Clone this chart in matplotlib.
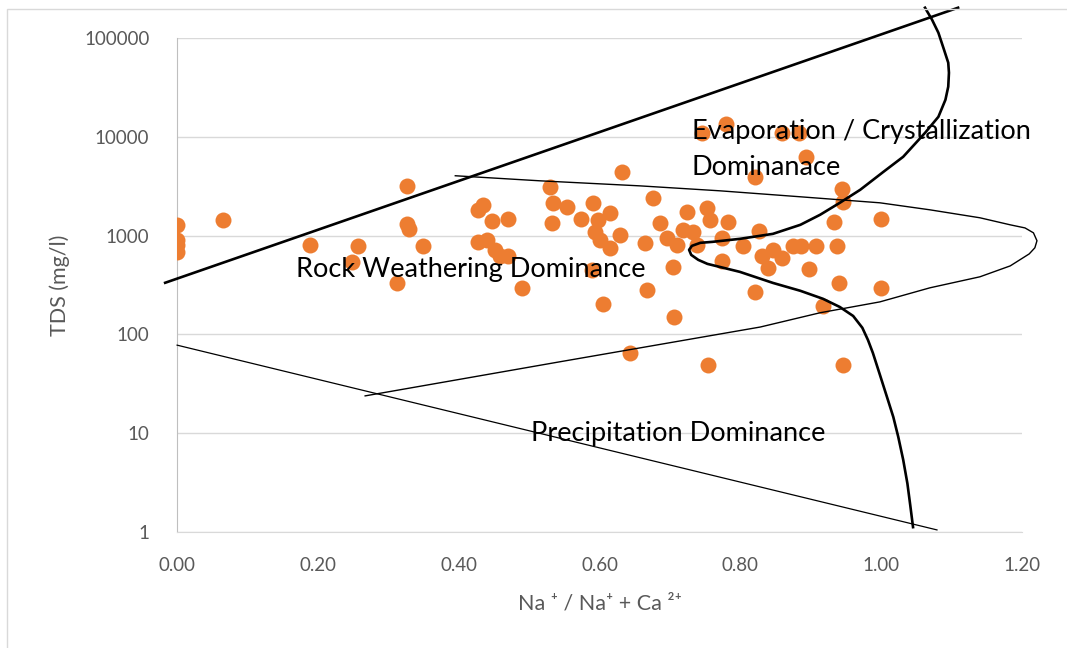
import matplotlib.pyplot as plt
from matplotlib.patches import Rectangle

plt.rcParams["font.family"] = ["Lato", "DejaVu Sans"]

# sample points: Na/(Na+Ca) ratio and TDS (mg/l)
ratio = [0.0, 0.0, 0.0, 0.0, 0.065, 0.189, 0.257, 0.248, 0.312, 0.327,
         0.327, 0.329, 0.349, 0.427, 0.435, 0.447, 0.470, 0.427, 0.440, 0.452,
         0.459, 0.470, 0.490, 0.530, 0.534, 0.554, 0.533, 0.574, 0.591, 0.598,
         0.594, 0.601, 0.615, 0.629, 0.615, 0.589, 0.605, 0.632, 0.676, 0.665,
         0.685, 0.704, 0.667, 0.706, 0.643, 0.724, 0.753, 0.757, 0.696, 0.710,
         0.719, 0.733, 0.738, 0.782, 0.774, 0.774, 0.804, 0.826, 0.831, 0.846,
         0.839, 0.859, 0.875, 0.886, 0.907, 0.897, 0.821, 0.917, 0.940, 0.937,
         0.933, 0.946, 0.944, 1.000, 1.000, 0.946, 0.754, 0.780, 0.746, 0.859,
         0.883, 0.893, 0.821]
tds = [1290, 910, 800, 690, 1450, 810, 780, 540, 330, 3160,
       1300, 1180, 780, 1820, 2040, 1410, 1480, 870, 910, 720,
       620, 620, 295, 3090, 2140, 1950, 1350, 1480, 2140, 1450,
       1100, 910, 1700, 1020, 760, 450, 205, 4370, 2400, 850,
       1350, 480, 280, 150, 65, 1740, 1900, 1450, 950, 810,
       1150, 1100, 810, 1380, 950, 550, 790, 1120, 620, 710,
       470, 590, 780, 790, 790, 460, 270, 195, 330, 780,
       1380, 2190, 2950, 1480, 295, 49, 49, 13500, 11000, 11000,
       11000, 6300, 3900]

# Gibbs boundary lines
upper_x = [-0.017, 1.109]
upper_y = [334, 203700]
lower_x = [0.0, 1.079]
lower_y = [78, 1.05]
env_x = [0.395, 0.515, 0.657, 0.771, 0.885, 0.998, 1.069, 1.140, 1.183, 1.204,
         1.216, 1.221, 1.218, 1.210, 1.183, 1.140, 1.069, 0.998, 0.913, 0.828,
         0.544, 0.267]
env_y = [4050, 3600, 3200, 2850, 2480, 2155, 1830, 1520, 1290, 1200,
         1070, 890, 755, 655, 495, 384, 297, 214, 166, 119,
         53, 23.9]
evap_x = [1.062, 1.072, 1.081, 1.089, 1.095, 1.096, 1.095, 1.091, 1.081, 1.062,
          1.031, 1.003, 0.970, 0.941, 0.913, 0.885, 0.846, 0.799, 0.760, 0.743,
          0.731, 0.727, 0.730, 0.740, 0.753, 0.799, 0.846, 0.885, 0.917, 0.941,
          0.960, 0.973, 0.981, 0.988, 0.998, 1.008, 1.017, 1.024, 1.031, 1.037,
          1.041, 1.045]
evap_y = [203700, 153900, 113700, 76500, 56500, 44700, 32300, 23800, 16000, 11000,
          6300, 4440, 2920, 2155, 1630, 1290, 1045, 930, 867, 848,
          790, 720, 640, 570, 519, 431, 333, 277, 230, 190,
          154, 117, 88, 65, 39, 23.3, 14.6, 9.2, 5.4, 3.1,
          1.88, 1.12]

fig = plt.figure(figsize=(10.67, 6.48), dpi=100)
ax = fig.add_axes([0.166, 0.179, 0.792, 0.762])

ax.plot(ratio, tds, "o", color="#ED7D31", markersize=11.5, markeredgewidth=0, zorder=3)
ax.plot(upper_x, upper_y, color="black", lw=1.9, clip_on=False, zorder=4)
ax.plot(lower_x, lower_y, color="black", lw=0.9, clip_on=False, zorder=4)
ax.plot(env_x, env_y, color="black", lw=1.0, clip_on=False, zorder=4)
ax.plot(evap_x, evap_y, color="black", lw=1.9, clip_on=False, zorder=4,
        solid_joinstyle="round")

ax.set_yscale("log")
ax.set_xlim(0, 1.2)
ax.set_ylim(1, 100000)
ax.set_xticks([0, 0.2, 0.4, 0.6, 0.8, 1.0, 1.2])
ax.set_xticklabels([f"{v:.2f}" for v in ax.get_xticks()])
ax.set_yticks([1, 10, 100, 1000, 10000, 100000])
ax.set_yticklabels(["1", "10", "100", "1000", "10000", "100000"])
ax.minorticks_off()
ax.tick_params(length=0, labelsize=13.5, labelcolor="#595959")
ax.tick_params(axis="x", pad=18)
ax.tick_params(axis="y", pad=20)
ax.grid(axis="y", color="#d9d9d9", lw=1.0)
ax.set_axisbelow(True)
for s in ["top", "right"]:
    ax.spines[s].set_visible(False)
ax.spines["left"].set_color("#bfbfbf")
ax.spines["bottom"].set_color("#d9d9d9")

ax.set_xlabel("Na \u207a / Na\u207a + Ca \u00b2\u207a", fontsize=15.5, color="#595959", labelpad=14)
ax.set_ylabel("TDS (mg/l)", fontsize=15.5, color="#595959", labelpad=10)

ax.text(0.731, 11300, "Evaporation / Crystallization", fontsize=19.5, va="center", zorder=5)
ax.text(0.731, 4900, "Dominanace", fontsize=19.5, va="center", zorder=5)
ax.text(0.169, 450, "Rock Weathering Dominance", fontsize=19.5, va="center", zorder=5)
ax.text(0.503, 10, "Precipitation Dominance", fontsize=19.5, va="center", zorder=5)

fig.patches.append(Rectangle((7 / 1067, -0.05), 1.1, 1 - 9 / 648 + 0.05,
                             transform=fig.transFigure, fill=False,
                             edgecolor="#d9d9d9", lw=1))

fig.savefig("out.png", dpi=100)
